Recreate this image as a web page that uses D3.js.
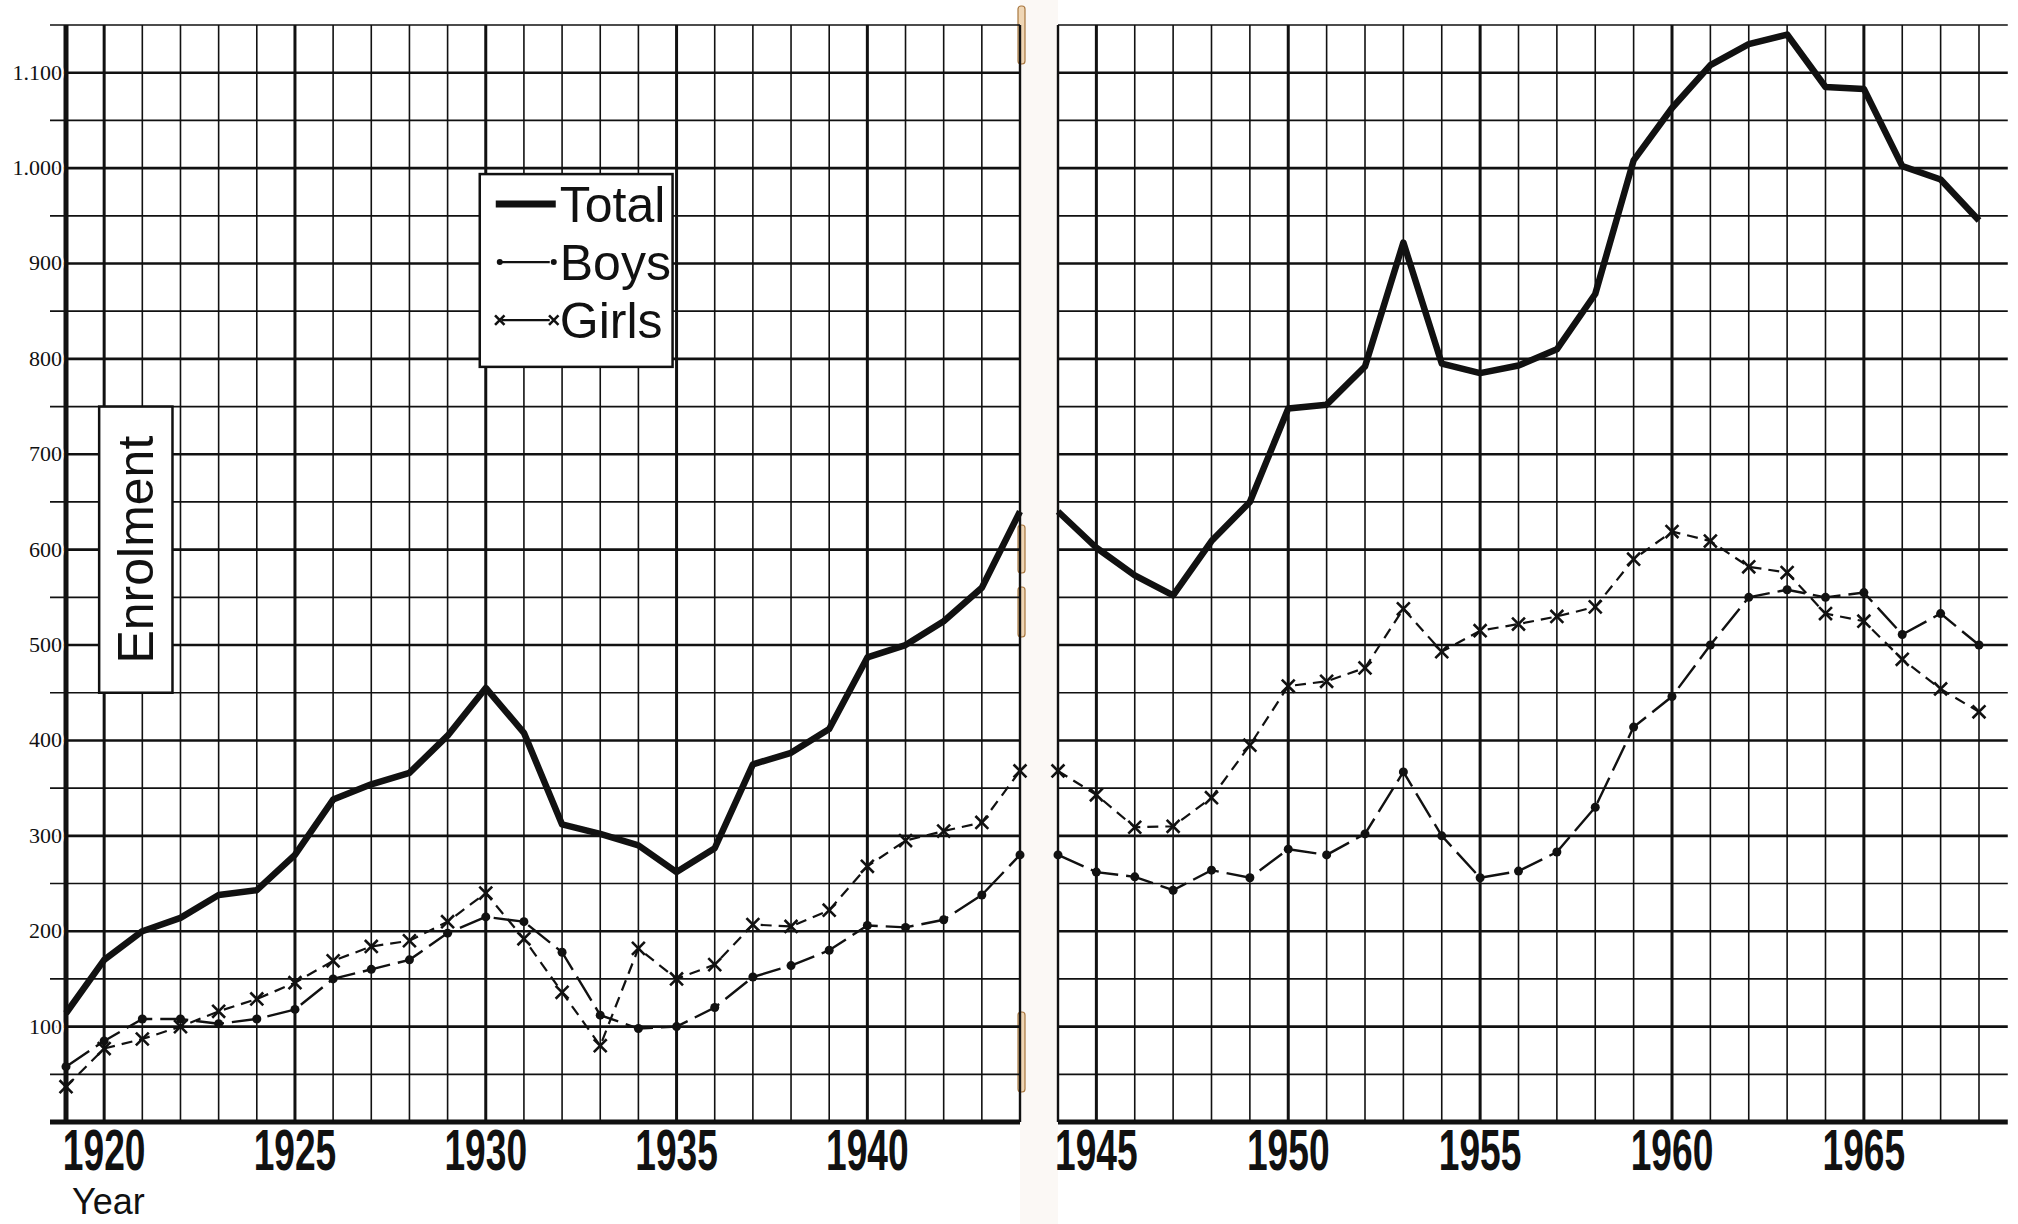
<!DOCTYPE html>
<html lang="en">
<head>
<meta charset="utf-8">
<title>Enrolment 1919-1968</title>
<script src="https://d3js.org/d3.v7.min.js"></script>
<style>
  body { margin: 0; background: #fff; }
  svg { display: block; }
</style>
</head>
<body>
<script>
var years = d3.range(1919, 1969);
var total = [114, 170, 200, 214, 238, 243, 280, 338, 354, 366, 405, 455, 408, 312, 302, 290, 262, 287, 375, 387, 412, 487, 500, 525, 560,
             640, 602, 573, 552, 609, 650, 748, 752, 792, 922, 795, 785, 793, 810, 868, 1008, 1063, 1108, 1130, 1140, 1085, 1083, 1002, 988, 945];
var boys  = [58, 85, 108, 108, 103, 108, 118, 150, 160, 170, 198, 215, 210, 178, 112, 98, 100, 120, 152, 164, 180, 206, 204, 212, 238,
             280, 262, 257, 243, 264, 256, 286, 280, 302, 367, 300, 256, 263, 283, 330, 414, 446, 500, 550, 558, 550, 555, 511, 533, 500];
var girls = [37, 77, 87, 100, 116, 129, 146, 169, 184, 190, 210, 240, 192, 136, 80, 182, 150, 165, 207, 205, 222, 268, 295, 305, 314,
             368, 343, 309, 310, 340, 395, 457, 462, 476, 538, 493, 515, 522, 530, 540, 590, 619, 609, 582, 576, 533, 525, 485, 454, 430];

var yTicks = [100, 200, 300, 400, 500, 600, 700, 800, 900, 1000, 1100];
var yTickLabels = ["100", "200", "300", "400", "500", "600", "700", "800", "900", "1.000", "1.100"];
var xLabelYears = [1920, 1925, 1930, 1935, 1940, 1945, 1950, 1955, 1960, 1965];

var W = 2018, H = 1224;
var svg = d3.select("body").append("svg").attr("width", W).attr("height", H);

var y = d3.scaleLinear().domain([0, 1150]).range([1122, 25]);

// the graph runs across two pages of a book, split at 1944
var pages = [
  { x: d3.scaleLinear().domain([1919, 1944]).range([66, 1020]), lo: 1919, hi: 1944, end: 1944 },
  { x: d3.scaleLinear().domain([1944, 1968]).range([1058, 1979]), lo: 1944, hi: 1968, end: 1968.75 }
];

var rows = years.map(function(yr, i) {
  return { year: yr, total: total[i], boys: boys[i], girls: girls[i] };
});

// gutter
svg.append("rect").attr("x", 1020).attr("y", 0).attr("width", 38).attr("height", H).attr("fill", "#fbf8f5");
[[6, 58], [525, 48], [587, 50], [1012, 80]].forEach(function(b) {
  svg.append("rect").attr("x", 1018).attr("y", b[0]).attr("width", 7).attr("height", b[1])
    .attr("rx", 3).attr("fill", "#efd6b5").attr("stroke", "#a8773f").attr("stroke-width", 1.2);
});

pages.forEach(function(p, pi) {
  var x = p.x;
  var g = svg.append("g");
  var x0 = x(p.lo), x1 = x(p.end);

  // horizontal grid every 50
  var hv = d3.range(0, 1151, 50);
  g.selectAll("line.h").data(hv).enter().append("line")
    .attr("x1", pi === 0 ? 50 : x0).attr("x2", x1)
    .attr("y1", function(d) { return y(d); }).attr("y2", function(d) { return y(d); })
    .attr("stroke", "#111")
    .attr("stroke-width", function(d) { return d === 0 ? 5 : (d % 100 === 0 ? 2.6 : 1.7); });

  // vertical grid every year
  var vv = d3.range(p.lo, Math.floor(p.end) + 1);
  g.selectAll("line.v").data(vv).enter().append("line")
    .attr("x1", function(d) { return x(d); }).attr("x2", function(d) { return x(d); })
    .attr("y1", y(1150)).attr("y2", y(0))
    .attr("stroke", "#111")
    .attr("stroke-width", function(d) {
      if (d === 1919) return 5;
      if (d === 1944) return 2.4;
      return d % 5 === 0 ? 3 : 1.6;
    });

  var data = rows.filter(function(d) { return d.year >= p.lo && d.year <= p.hi; });

  var line = function(key) {
    return d3.line().x(function(d) { return x(d.year); }).y(function(d) { return y(d[key]); });
  };

  g.append("path").datum(data).attr("d", line("girls"))
    .attr("fill", "none").attr("stroke", "#111").attr("stroke-width", 2.2)
    .attr("stroke-dasharray", "11,7");
  g.append("path").datum(data).attr("d", line("boys"))
    .attr("fill", "none").attr("stroke", "#111").attr("stroke-width", 2.4)
    .attr("stroke-dasharray", "28,8");
  g.append("path").datum(data).attr("d", line("total"))
    .attr("fill", "none").attr("stroke", "#111").attr("stroke-width", 6.5)
    .attr("stroke-linejoin", "round");

  g.selectAll("circle.b").data(data).enter().append("circle")
    .attr("cx", function(d) { return x(d.year); }).attr("cy", function(d) { return y(d.boys); })
    .attr("r", 4.5).attr("fill", "#111");

  var cross = d3.symbol().type(d3.symbolX).size(110);
  g.selectAll("path.gx").data(data).enter().append("path")
    .attr("d", cross)
    .attr("transform", function(d) { return "translate(" + x(d.year) + "," + y(d.girls) + ")"; })
    .attr("fill", "none").attr("stroke", "#111").attr("stroke-width", 2.6);
});

var xl = pages[0].x;

// y tick labels
svg.selectAll("text.yt").data(yTicks).enter().append("text")
  .attr("x", 62).attr("y", function(d) { return y(d) + 7; })
  .attr("text-anchor", "end")
  .attr("font-family", "Liberation Serif, serif").attr("font-size", 22)
  .attr("fill", "#111")
  .style("paint-order", "stroke").attr("stroke", "#fff").attr("stroke-width", 5)
  .text(function(d, i) { return yTickLabels[i]; });

// year labels under the graph
svg.selectAll("text.xt").data(xLabelYears).enter().append("text")
  .attr("transform", function(d) {
    var p = d < 1944 ? pages[0] : pages[1];
    return "translate(" + p.x(d) + ",1170) scale(0.64,1)";
  })
  .attr("text-anchor", "middle")
  .attr("font-family", "Liberation Sans Narrow, Liberation Sans, sans-serif")
  .attr("font-weight", "bold").attr("font-size", 58).attr("fill", "#111")
  .text(function(d) { return d; });

svg.append("text").attr("x", 72).attr("y", 1214)
  .attr("font-family", "Liberation Sans Narrow, Liberation Sans, sans-serif")
  .attr("font-size", 36).attr("fill", "#111").text("Year");

// "Enrolment" box
var eb = { x0: xl(1920) - 5, x1: xl(1922) - 8, y0: y(750), y1: y(450) };
svg.append("rect").attr("x", eb.x0).attr("y", eb.y0)
  .attr("width", eb.x1 - eb.x0).attr("height", eb.y1 - eb.y0)
  .attr("fill", "#fff").attr("stroke", "#111").attr("stroke-width", 2.5);
svg.append("text")
  .attr("transform", "translate(" + ((eb.x0 + eb.x1) / 2 + 17) + "," + ((eb.y0 + eb.y1) / 2) + ") rotate(-90)")
  .attr("text-anchor", "middle")
  .attr("font-family", "Liberation Sans Narrow, Liberation Sans, sans-serif")
  .attr("font-size", 50).attr("fill", "#111").text("Enrolment");

// legend
var lb = { x0: xl(1930) - 6, x1: xl(1935) - 4, y0: y(1000) + 6, y1: y(800) + 8 };
svg.append("rect").attr("x", lb.x0).attr("y", lb.y0)
  .attr("width", lb.x1 - lb.x0).attr("height", lb.y1 - lb.y0)
  .attr("fill", "#fff").attr("stroke", "#111").attr("stroke-width", 2.5);

var legendItems = ["Total", "Boys", "Girls"];
var lg = svg.append("g").attr("transform", "translate(" + lb.x0 + "," + lb.y0 + ")");
legendItems.forEach(function(name, i) {
  var cy = 30 + i * 58;
  if (name === "Total") {
    lg.append("line").attr("x1", 16).attr("x2", 76).attr("y1", cy).attr("y2", cy)
      .attr("stroke", "#111").attr("stroke-width", 7);
  } else {
    lg.append("line").attr("x1", 22).attr("x2", 70).attr("y1", cy).attr("y2", cy)
      .attr("stroke", "#111").attr("stroke-width", 2.2);
    [20, 74].forEach(function(px) {
      if (name === "Boys") {
        lg.append("circle").attr("cx", px).attr("cy", cy).attr("r", 3).attr("fill", "#111");
      } else {
        lg.append("path").attr("d", d3.symbol().type(d3.symbolX).size(60))
          .attr("transform", "translate(" + px + "," + cy + ")")
          .attr("fill", "none").attr("stroke", "#111").attr("stroke-width", 2.6);
      }
    });
  }
  lg.append("text").attr("x", 80).attr("y", cy + 18)
    .attr("font-family", "Liberation Sans Narrow, Liberation Sans, sans-serif")
    .attr("font-size", 50).attr("fill", "#111").text(name);
});
</script>
</body>
</html>
